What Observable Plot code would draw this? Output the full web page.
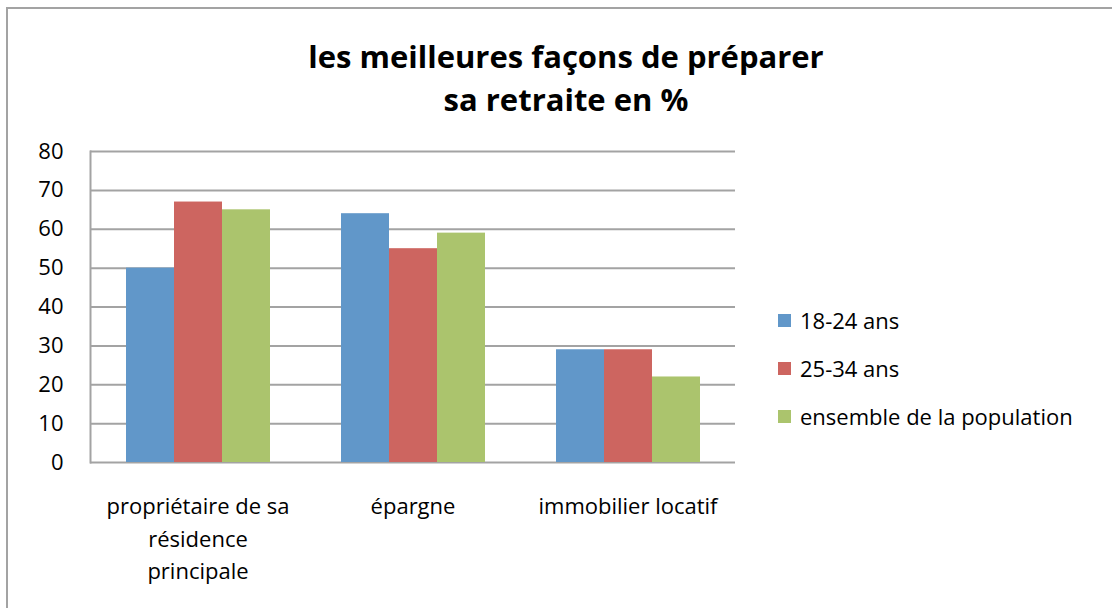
<!DOCTYPE html>
<html>
<head>
<meta charset="utf-8">
<script src="https://cdn.jsdelivr.net/npm/d3@7"></script>
<script src="https://cdn.jsdelivr.net/npm/@observablehq/plot@0.6"></script>
<style>
  html, body { margin: 0; padding: 0; background: #fff; }
  #wrap { position: relative; width: 1112px; height: 608px; overflow: hidden; font-family: "Open Sans", sans-serif; }
  #border { position: absolute; left: 6px; top: 7px; width: 1200px; height: 700px; border: 2px solid #a3a3a3; }
  #title { position: absolute; left: 0; top: 35px; width: 1132px; text-align: center; font-weight: bold; font-size: 31px; line-height: 43px; color: #000; }
  #chart { position: absolute; left: 0; top: 0; }
  #legend { position: absolute; left: 778px; top: 296px; font-size: 22px; color: #000; }
  #legend .row { display: flex; align-items: center; height: 48px; }
  #legend .sw { width: 13px; height: 13px; margin-right: 9px; }
</style>
</head>
<body>
<div id="wrap">
  <div id="border"></div>
  <div id="title"></div>
  <div id="chart"></div>
  <div id="legend"></div>
</div>
<script>
const titleLines = ["les meilleures façons de préparer", "sa retraite en %"];
const categories = ["propriétaire de sa résidence principale", "épargne", "immobilier locatif"];
const categoryLabels = ["propriétaire de sa\nrésidence\nprincipale", "épargne", "immobilier locatif"];
const seriesNames = ["18-24 ans", "25-34 ans", "ensemble de la population"];
const colors = ["#6197c9", "#cd6560", "#abc46d"];
const values1824 = [50, 64, 29];
const values2534 = [67, 55, 29];
const valuesAll = [65, 59, 22];
const yTicks = [0, 10, 20, 30, 40, 50, 60, 70, 80];

const seriesValues = [values1824, values2534, valuesAll];
const data = [];
categories.forEach((c, i) => {
  seriesNames.forEach((s, j) => data.push({cat: c, series: s, value: seriesValues[j][i]}));
});

document.getElementById("title").innerHTML = titleLines.join("<br>");

const labelOf = new Map(categories.map((c, i) => [c, categoryLabels[i]]));
const grid = "#a3a3a3";

const chart = Plot.plot({
  width: 760,
  height: 608,
  marginLeft: 90,
  marginRight: 25,
  marginTop: 151,
  marginBottom: 146,
  style: {fontFamily: "Open Sans, sans-serif", fontSize: "22px", color: "#000", background: "transparent"},
  fx: {domain: categories, padding: 0, label: null, axis: null},
  x: {domain: seriesNames, paddingInner: 0, paddingOuter: 0.73, axis: null},
  y: {domain: [0, 80], ticks: yTicks, label: null, axis: null},
  color: {domain: seriesNames, range: colors},
  marks: [
    Plot.gridY(yTicks, {stroke: grid, strokeOpacity: 1, strokeWidth: 2}),
    Plot.barY(data, {fx: "cat", x: "series", y: "value", fill: "series"}),
    Plot.frame({anchor: "left", stroke: grid, strokeWidth: 2, facet: "super"}),
    Plot.axisY(yTicks, {tickSize: 0, tickPadding: 27, fontSize: 22, label: null}),
    Plot.axisFx({anchor: "bottom", tickSize: 0, tickPadding: 29, fontSize: 22, lineHeight: 1.47, label: null, tickFormat: d => labelOf.get(d)})
  ]
});
document.getElementById("chart").appendChild(chart);

const legend = document.getElementById("legend");
seriesNames.forEach((s, i) => {
  const row = document.createElement("div");
  row.className = "row";
  const sw = document.createElement("div");
  sw.className = "sw";
  sw.style.background = colors[i];
  const t = document.createElement("span");
  t.textContent = s;
  row.appendChild(sw);
  row.appendChild(t);
  legend.appendChild(row);
});
</script>
</body>
</html>
